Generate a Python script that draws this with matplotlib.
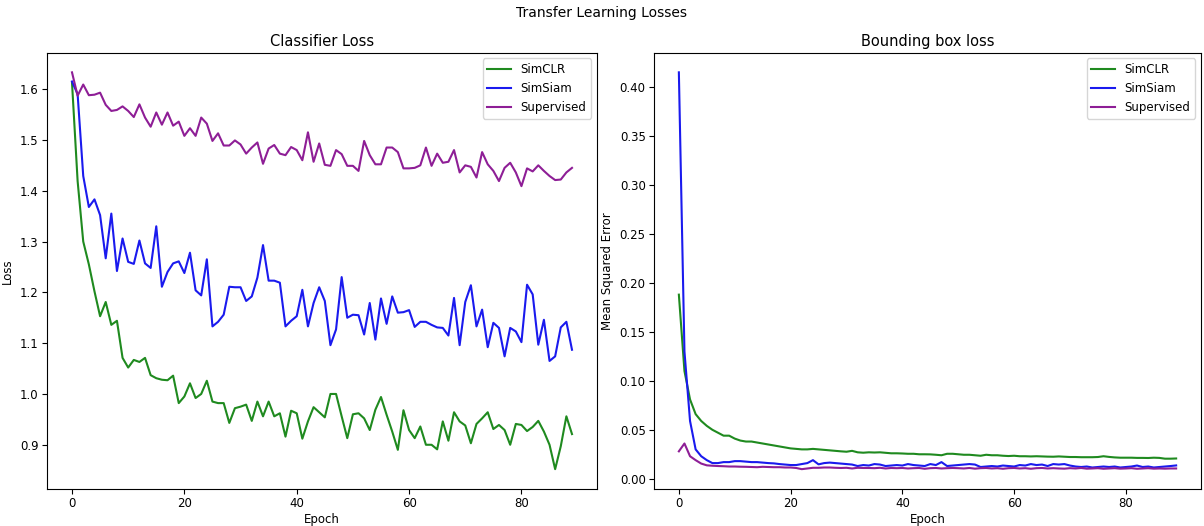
import matplotlib
matplotlib.use("Agg")
import matplotlib.pyplot as plt
import numpy as np

epochs = list(range(90))

clf_simclr = [1.613, 1.419, 1.300, 1.255, 1.202, 1.153, 1.181, 1.136, 1.144, 1.071,
              1.052, 1.067, 1.063, 1.071, 1.037, 1.031, 1.028, 1.027, 1.036, 0.982,
              0.995, 1.021, 0.992, 1.000, 1.026, 0.985, 0.982, 0.982, 0.943, 0.972,
              0.975, 0.979, 0.947, 0.985, 0.956, 0.985, 0.956, 0.962, 0.916, 0.967,
              0.962, 0.912, 0.946, 0.974, 0.964, 0.954, 1.000, 1.000, 0.956, 0.913,
              0.960, 0.962, 0.952, 0.929, 0.969, 0.994, 0.959, 0.926, 0.890, 0.968,
              0.929, 0.913, 0.936, 0.900, 0.900, 0.891, 0.946, 0.908, 0.964, 0.946,
              0.938, 0.903, 0.941, 0.952, 0.964, 0.931, 0.939, 0.929, 0.900, 0.941,
              0.939, 0.927, 0.935, 0.947, 0.926, 0.900, 0.852, 0.897, 0.956, 0.921]

clf_simsiam = [1.615, 1.590, 1.429, 1.368, 1.383, 1.352, 1.267, 1.355, 1.242, 1.306,
               1.260, 1.256, 1.302, 1.257, 1.248, 1.330, 1.211, 1.240, 1.257, 1.261,
               1.238, 1.278, 1.204, 1.194, 1.265, 1.133, 1.142, 1.156, 1.211, 1.210,
               1.210, 1.183, 1.192, 1.229, 1.293, 1.223, 1.223, 1.219, 1.133, 1.144,
               1.153, 1.205, 1.133, 1.179, 1.210, 1.183, 1.096, 1.127, 1.230, 1.150,
               1.156, 1.155, 1.117, 1.179, 1.107, 1.188, 1.138, 1.192, 1.160, 1.161,
               1.165, 1.132, 1.142, 1.142, 1.136, 1.131, 1.130, 1.115, 1.189, 1.096,
               1.181, 1.214, 1.133, 1.166, 1.092, 1.140, 1.130, 1.074, 1.130, 1.123,
               1.102, 1.215, 1.196, 1.097, 1.146, 1.065, 1.074, 1.131, 1.142, 1.087]

clf_supervised = [1.633, 1.587, 1.609, 1.588, 1.589, 1.593, 1.569, 1.557, 1.559, 1.566,
                  1.557, 1.545, 1.570, 1.544, 1.526, 1.554, 1.530, 1.554, 1.528, 1.536,
                  1.508, 1.523, 1.508, 1.544, 1.532, 1.498, 1.513, 1.489, 1.489, 1.499,
                  1.491, 1.473, 1.485, 1.495, 1.453, 1.483, 1.490, 1.473, 1.470, 1.486,
                  1.480, 1.460, 1.515, 1.457, 1.493, 1.451, 1.449, 1.480, 1.472, 1.449,
                  1.449, 1.439, 1.498, 1.470, 1.452, 1.452, 1.485, 1.485, 1.476, 1.444,
                  1.444, 1.445, 1.450, 1.485, 1.449, 1.473, 1.455, 1.457, 1.480, 1.436,
                  1.450, 1.447, 1.426, 1.476, 1.452, 1.439, 1.419, 1.445, 1.455, 1.436,
                  1.409, 1.444, 1.438, 1.450, 1.439, 1.429, 1.421, 1.422, 1.436, 1.445]

bbox_simclr = [0.188, 0.110, 0.081, 0.066, 0.059, 0.054, 0.050, 0.047, 0.044, 0.044,
               0.041, 0.039, 0.038, 0.038, 0.037, 0.036, 0.035, 0.034, 0.033, 0.032,
               0.031, 0.0305, 0.030, 0.030, 0.0305, 0.030, 0.0295, 0.029, 0.0285, 0.028,
               0.0276, 0.0285, 0.027, 0.0266, 0.027, 0.0268, 0.027, 0.0265, 0.026, 0.026,
               0.0258, 0.0255, 0.0255, 0.025, 0.025, 0.0249, 0.0245, 0.024, 0.0255, 0.0255,
               0.025, 0.0245, 0.0245, 0.024, 0.0235, 0.0245, 0.024, 0.024, 0.0235, 0.0232,
               0.0235, 0.023, 0.023, 0.0228, 0.023, 0.0228, 0.0226, 0.0225, 0.0228, 0.0225,
               0.0222, 0.0222, 0.022, 0.022, 0.022, 0.0222, 0.023, 0.0223, 0.0218, 0.0215,
               0.0215, 0.0215, 0.0213, 0.0213, 0.0212, 0.0215, 0.0213, 0.0205, 0.0205, 0.0207]

bbox_simsiam = [0.415, 0.130, 0.059, 0.030, 0.023, 0.019, 0.016, 0.016, 0.017, 0.017,
                0.018, 0.018, 0.0175, 0.017, 0.017, 0.0165, 0.016, 0.0157, 0.015, 0.0145,
                0.014, 0.014, 0.015, 0.016, 0.019, 0.0147, 0.016, 0.0165, 0.016, 0.0155,
                0.015, 0.0145, 0.013, 0.014, 0.0135, 0.015, 0.0145, 0.013, 0.0135, 0.014,
                0.0135, 0.015, 0.014, 0.0135, 0.013, 0.015, 0.014, 0.017, 0.013, 0.0135,
                0.014, 0.0145, 0.015, 0.0145, 0.012, 0.0125, 0.013, 0.0125, 0.0135, 0.013,
                0.0125, 0.014, 0.0135, 0.015, 0.014, 0.0145, 0.013, 0.015, 0.0145, 0.015,
                0.0135, 0.0125, 0.012, 0.0125, 0.0115, 0.012, 0.0125, 0.012, 0.0125, 0.0115,
                0.012, 0.0125, 0.0135, 0.012, 0.0125, 0.0115, 0.012, 0.0125, 0.013, 0.0136]

bbox_supervised = [0.028, 0.036, 0.023, 0.019, 0.0155, 0.0137, 0.0133, 0.013, 0.0128, 0.0125,
                   0.0125, 0.0123, 0.0122, 0.012, 0.0118, 0.0122, 0.012, 0.0118, 0.0118, 0.0115,
                   0.0115, 0.011, 0.0098, 0.0105, 0.0112, 0.0112, 0.0115, 0.0115, 0.0112, 0.011,
                   0.0112, 0.0105, 0.0112, 0.011, 0.011, 0.0108, 0.0112, 0.0105, 0.011, 0.0108,
                   0.011, 0.0105, 0.0108, 0.011, 0.0102, 0.0108, 0.011, 0.0105, 0.0108, 0.011,
                   0.0108, 0.0105, 0.011, 0.0103, 0.0108, 0.011, 0.0105, 0.0108, 0.0102, 0.0108,
                   0.011, 0.0105, 0.0108, 0.0102, 0.0108, 0.011, 0.0105, 0.0108, 0.0105, 0.0103,
                   0.0108, 0.0105, 0.011, 0.0103, 0.0105, 0.0108, 0.0102, 0.0105, 0.0108, 0.0103,
                   0.0105, 0.0108, 0.0102, 0.0105, 0.0108, 0.0103, 0.0105, 0.0103, 0.0105, 0.0105]

labels = ["SimCLR", "SimSiam", "Supervised"]
colors = ["#1f8a1f", "#1a1aee", "#8e1e96"]

fig = plt.figure(figsize=(12.04, 5.26), dpi=100)
ax1 = fig.add_axes([47/1204, 1-489/526, 550/1204, 436.5/526])
ax2 = fig.add_axes([654/1204, 1-489/526, 547/1204, 436.5/526])

for series, lab, c in zip([clf_simclr, clf_simsiam, clf_supervised], labels, colors):
    ax1.plot(epochs, series, color=c, label=lab, linewidth=1.5)
ax1.set_title("Classifier Loss", fontsize=10.5, pad=5)
ax1.set_xlabel("Epoch", fontsize=8.5, labelpad=2)
ax1.set_ylabel("Loss", fontsize=8.5, labelpad=4)
ax1.legend(loc="upper right", fontsize=8.5)

for series, lab, c in zip([bbox_simclr, bbox_simsiam, bbox_supervised], labels, colors):
    ax2.plot(epochs, series, color=c, label=lab, linewidth=1.5)
ax2.set_title("Bounding box loss", fontsize=10.5, pad=5)
ax2.set_xlabel("Epoch", fontsize=8.5, labelpad=2)
ax2.set_ylabel("Mean Squared Error", fontsize=8.5, labelpad=4)
ax2.legend(loc="upper right", fontsize=8.5)

for ax in (ax1, ax2):
    ax.tick_params(labelsize=8.5, pad=2.5)

fig.suptitle("Transfer Learning Losses", fontsize=10, y=0.988)
fig.savefig("out.png", dpi=100)
